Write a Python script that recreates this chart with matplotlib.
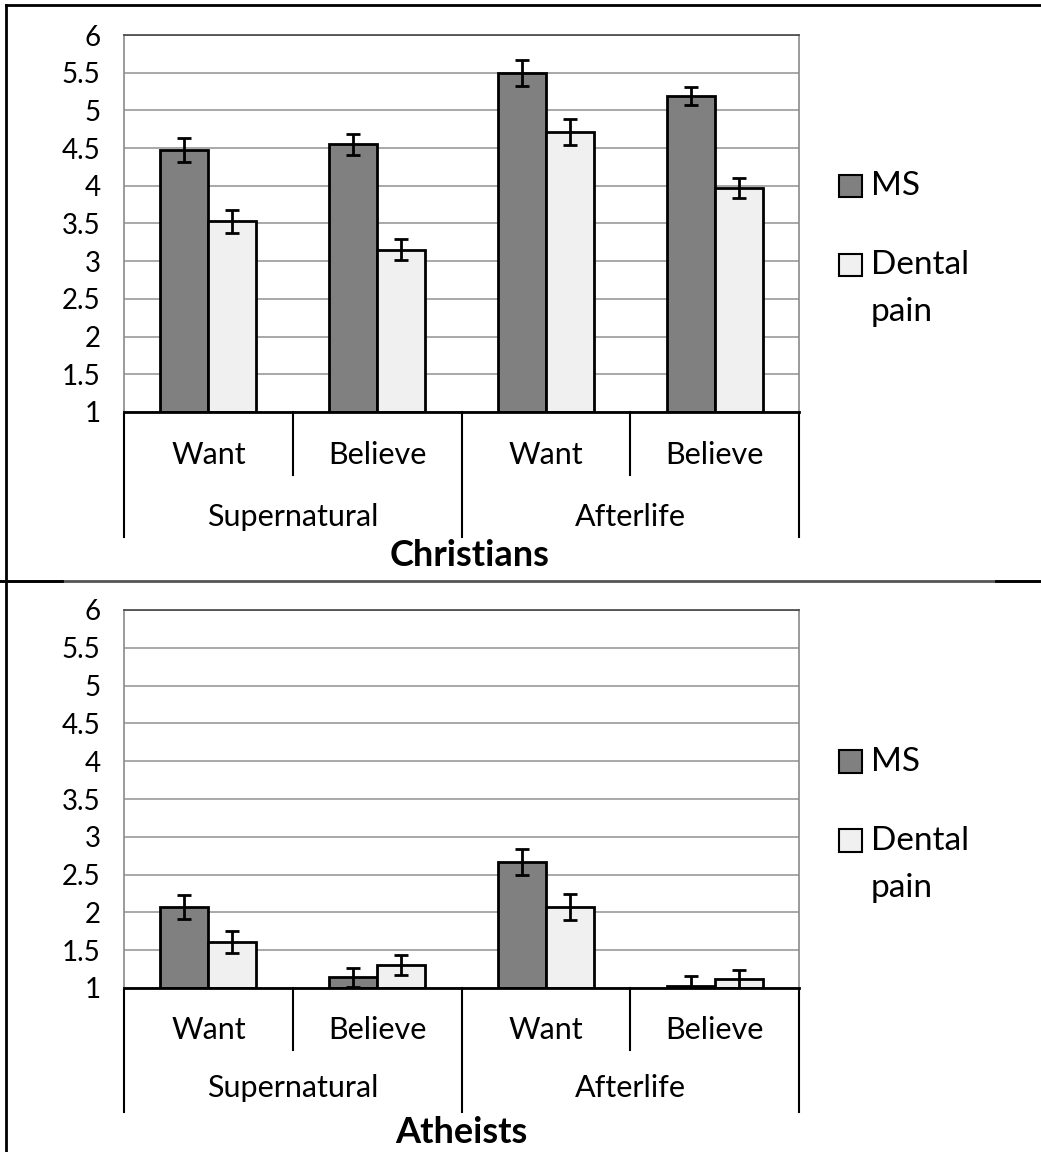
import numpy as np
import matplotlib
matplotlib.use("Agg")
import matplotlib.pyplot as plt
from matplotlib.lines import Line2D
from matplotlib.patches import Rectangle

plt.rcParams['font.family'] = ['Lato', 'DejaVu Sans']

# data
conditions = ["Want", "Believe", "Want", "Believe"]
groups = ["Supernatural", "Afterlife"]
series = ["MS", "Dental", "pain"]

christ_ms = [4.47, 4.55, 5.50, 5.19]
christ_ms_err = [0.16, 0.14, 0.17, 0.12]
christ_dental = [3.53, 3.15, 4.71, 3.97]
christ_dental_err = [0.15, 0.14, 0.17, 0.13]

athe_ms = [2.07, 1.14, 2.67, 1.03]
athe_ms_err = [0.16, 0.13, 0.17, 0.13]
athe_dental = [1.61, 1.30, 2.07, 1.12]
athe_dental_err = [0.15, 0.13, 0.17, 0.12]

yticks = [1, 1.5, 2, 2.5, 3, 3.5, 4, 4.5, 5, 5.5, 6]
ytick_labels = ["1", "1.5", "2", "2.5", "3", "3.5", "4", "4.5", "5", "5.5", "6"]

MS_COL = "#808080"
DENT_COL = "#f0f0f0"

W, H = 1041, 1152
fig = plt.figure(figsize=(W / 100, H / 100), dpi=100)


def px_box(x0, y0, x1, y1):
    return [x0 / W, 1 - y1 / H, (x1 - x0) / W, (y1 - y0) / H]


def panel(rect, ms, ms_err, dental, dental_err, title, lab_y, grp_y, short_y, long_y, title_x, title_y):
    ax = fig.add_axes(rect)
    x = np.arange(len(conditions))
    bw = 0.284
    err_kw = dict(elinewidth=2, capsize=5, capthick=2, ecolor="black")
    ax.bar(x - bw / 2, [v - 1 for v in ms], bw, bottom=1, color=MS_COL,
           edgecolor="black", linewidth=2, yerr=ms_err, error_kw=err_kw, zorder=3)
    ax.bar(x + bw / 2, [v - 1 for v in dental], bw, bottom=1, color=DENT_COL,
           edgecolor="black", linewidth=2, yerr=dental_err, error_kw=err_kw, zorder=3)
    ax.set_xlim(-0.5, len(conditions) - 0.5)
    ax.set_ylim(1, 6)
    ax.set_yticks(yticks)
    ax.set_yticklabels(ytick_labels, fontsize=20)
    ax.tick_params(axis='y', length=0, pad=17)
    ax.set_xticks([])
    ax.grid(axis='y', color="#9a9a9a", linewidth=1.2, zorder=0)
    for s in ["top", "left", "right"]:
        ax.spines[s].set_color("#8a8a8a")
        ax.spines[s].set_linewidth(1.2)
    ax.spines["top"].set_color("#444444")
    ax.spines["bottom"].set_color("black")
    ax.spines["bottom"].set_linewidth(2)
    ax.spines["bottom"].set_zorder(4)

    tr = ax.get_xaxis_transform()
    for i, lab in enumerate(conditions):
        ax.text(x[i], lab_y, lab, transform=tr, ha="center", va="center", fontsize=22)
    for g, lab in enumerate(groups):
        ax.text(2 * g + 0.5, grp_y, lab, transform=tr, ha="center", va="center", fontsize=22)
        ax.add_line(Line2D([2 * g + 0.5] * 2, [0, short_y], transform=tr, color="black",
                           linewidth=1.5, clip_on=False))
    for xv in [-0.5, 1.5, 3.5]:
        ax.add_line(Line2D([xv, xv], [0, long_y], transform=tr, color="black",
                           linewidth=1.5, clip_on=False))
    ax.text(title_x, title_y, title, transform=tr, ha="center", va="center",
            fontsize=26, fontweight="bold")

    # legend drawn by hand: the patch sits beside the first line of "Dental pain"
    for col, ty in [(MS_COL, 0.599), (DENT_COL, 0.39)]:
        ax.add_patch(Rectangle((1.059, ty - 0.03), 0.034, 0.06, transform=ax.transAxes,
                               facecolor=col, edgecolor="black", linewidth=1.5, clip_on=False))
    for lab, ty in zip(series, [0.599, 0.39, 0.265]):
        ax.text(1.106, ty, lab, transform=ax.transAxes, ha="left", va="center", fontsize=24)
    return ax


panel(px_box(124, 35, 799, 412), christ_ms, christ_ms_err, christ_dental,
      christ_dental_err, "Christians", -0.114, -0.279, -0.167, -0.332, 1.55, -0.380)
panel(px_box(124, 610, 799, 988), athe_ms, athe_ms_err, athe_dental,
      athe_dental_err, "Atheists", -0.111, -0.265, -0.164, -0.328, 1.5, -0.383)

# outer frame and separator
fig.add_artist(Line2D([6 / W, 6 / W], [0, 1 - 5 / H], color="black", linewidth=2))
fig.add_artist(Line2D([6 / W, 1], [1 - 5 / H, 1 - 5 / H], color="black", linewidth=2))
fig.add_artist(Line2D([0, 1], [1 - 581 / H] * 2, color="#555555", linewidth=2))
fig.add_artist(Line2D([0, 62 / W], [1 - 581 / H] * 2, color="black", linewidth=2))
fig.add_artist(Line2D([996 / W, 1], [1 - 581 / H] * 2, color="black", linewidth=2))

fig.savefig("out.png", dpi=100)
